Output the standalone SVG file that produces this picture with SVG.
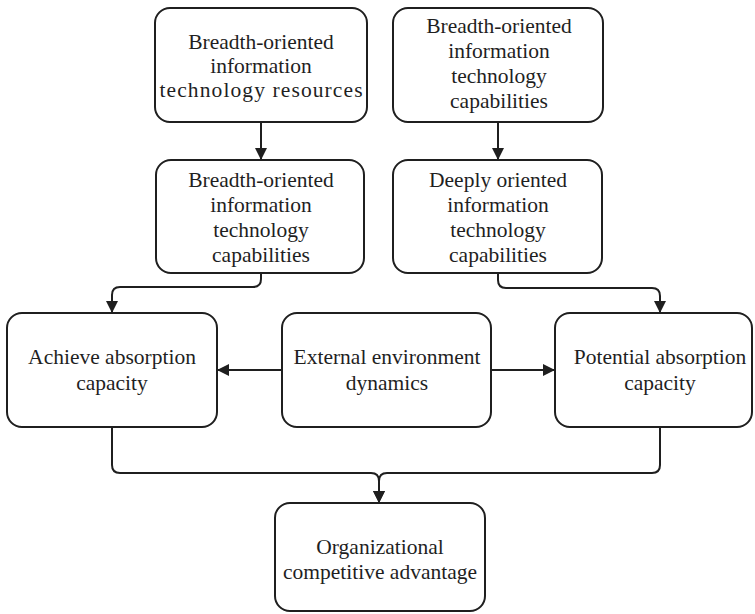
<svg xmlns="http://www.w3.org/2000/svg" width="755" height="614" viewBox="0 0 755 614">
<style>
.box{fill:#fff;stroke:#1f1f1f;stroke-width:2}
.t{font-family:'Liberation Serif','DejaVu Serif',serif;font-size:21.5px;fill:#1f1f1f;text-anchor:middle}
.c{fill:none;stroke:#1f1f1f;stroke-width:2}
</style>
<defs>
<marker id="ah" markerUnits="userSpaceOnUse" markerWidth="12" markerHeight="12" refX="12" refY="6" orient="auto">
<path d="M0,0 L12,6 L0,12 z" fill="#1f1f1f"/>
</marker>
</defs>
<rect width="755" height="614" fill="#fff"/>
<g id="connectors">
<path class="c" d="M261,122 V160" marker-end="url(#ah)"/>
<path class="c" d="M498,122 V160" marker-end="url(#ah)"/>
<path class="c" d="M261,273 V279 Q261,287 253,287 H120 Q112,287 112,295 V313" marker-end="url(#ah)"/>
<path class="c" d="M498,273 V280 Q498,288 506,288 H652 Q660,288 660,296 V313" marker-end="url(#ah)"/>
<path class="c" d="M282,370 H217" marker-end="url(#ah)"/>
<path class="c" d="M491,370 H555" marker-end="url(#ah)"/>
<path class="c" d="M112,427 V465 Q112,473 120,473 H371 Q379,473 379,481 V503" marker-end="url(#ah)"/>
<path class="c" d="M660,427 V465 Q660,473 652,473 H387 Q379,473 379,481 V503" marker-end="url(#ah)"/>
</g>
<g id="n1">
<rect class="box" x="155" y="8" width="212" height="114" rx="15"/>
<text class="t" x="261" y="49">Breadth-oriented</text>
<text class="t" x="261" y="73">information</text>
<text class="t" x="261" y="97" textLength="203" lengthAdjust="spacing">technology resources</text>
</g>
<g id="n2">
<rect class="box" x="393" y="8" width="210" height="114" rx="15"/>
<text class="t" x="499" y="33">Breadth-oriented</text>
<text class="t" x="499" y="58">information</text>
<text class="t" x="499" y="83">technology</text>
<text class="t" x="499" y="108">capabilities</text>
</g>
<g id="n3">
<rect class="box" x="156" y="160" width="208" height="113" rx="15"/>
<text class="t" x="261" y="187">Breadth-oriented</text>
<text class="t" x="261" y="212">information</text>
<text class="t" x="261" y="237">technology</text>
<text class="t" x="261" y="262">capabilities</text>
</g>
<g id="n4">
<rect class="box" x="393" y="160" width="209" height="113" rx="15"/>
<text class="t" x="498" y="187">Deeply oriented</text>
<text class="t" x="498" y="212">information</text>
<text class="t" x="498" y="237">technology</text>
<text class="t" x="498" y="262">capabilities</text>
</g>
<g id="n5">
<rect class="box" x="7" y="313" width="210" height="114" rx="15"/>
<text class="t" x="112" y="364">Achieve absorption</text>
<text class="t" x="112" y="390">capacity</text>
</g>
<g id="n6">
<rect class="box" x="282" y="313" width="209" height="114" rx="15"/>
<text class="t" x="387" y="364">External environment</text>
<text class="t" x="387" y="390">dynamics</text>
</g>
<g id="n7">
<rect class="box" x="555" y="313" width="197" height="114" rx="15"/>
<text class="t" x="660" y="364">Potential absorption</text>
<text class="t" x="660" y="390">capacity</text>
</g>
<g id="n8">
<rect class="box" x="275" y="503" width="210" height="108" rx="15"/>
<text class="t" x="380" y="554">Organizational</text>
<text class="t" x="380" y="579">competitive advantage</text>
</g>
</svg>
